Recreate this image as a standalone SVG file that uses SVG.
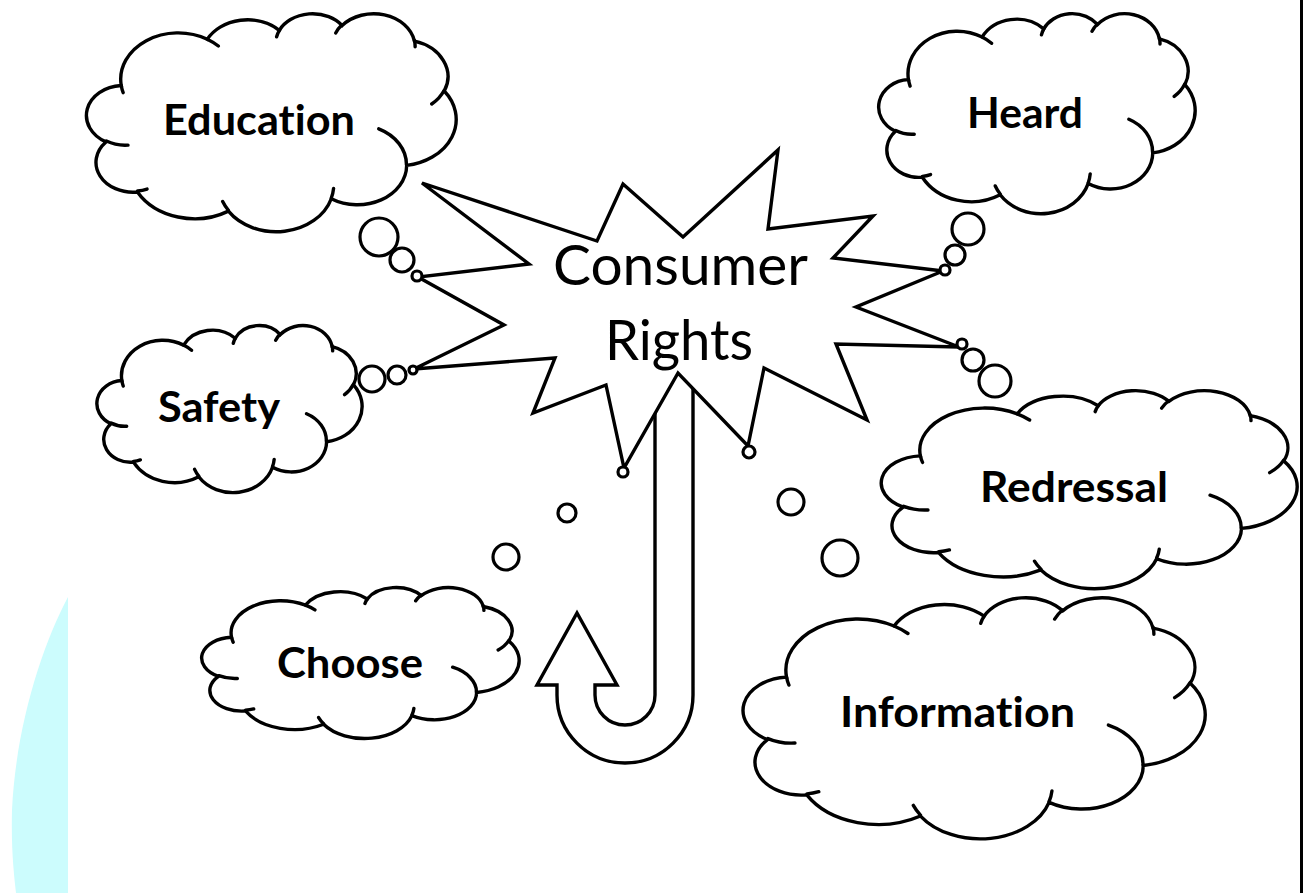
<svg xmlns="http://www.w3.org/2000/svg" xmlns:xlink="http://www.w3.org/1999/xlink" width="1308" height="893" viewBox="0 0 1308 893">
  <defs>
    <style>
      .outline { fill: #fff; stroke: #000; stroke-width: 3.4; vector-effect: non-scaling-stroke; }
      .tick { fill: none; stroke: #000; stroke-width: 3.4; vector-effect: non-scaling-stroke; stroke-linecap: round; }
      .burst { fill: #fff; stroke: #000; stroke-width: 3.4; stroke-linejoin: miter; }
      .bubble { fill: #fff; stroke: #000; stroke-width: 3.2; }
      .arrow { fill: #fff; stroke: #000; stroke-width: 3.4; stroke-linejoin: miter; }
      text { font-variant-ligatures: none; font-feature-settings: "liga" 0, "clig" 0; }
      .label { font-family: Lato, "Open Sans", "Liberation Sans", sans-serif; font-weight: 700; font-size: 42px; fill: #000; }
      .title { font-family: Lato, "Open Sans", "Liberation Sans", sans-serif; font-weight: 400; font-size: 57px; fill: #000; }
    </style>
    <!-- Thought-cloud outline on a 432 x 434 design grid, with its inner fold arcs -->
    <g id="cloud">
      <path class="outline" d="M39,143.7 A67.53,91.9 0 0 1 140.05,52.02 A53.33,72.67 0 0 1 224.56,34.31 A43.65,59.45 0 0 1 298.33,24.8 A48.57,65.95 0 0 1 383.18,55.75 A53.33,72.73 0 0 1 418.19,154.59 A67.75,92.2 0 0 1 374.05,302.01 A57.85,78.67 0 0 1 285.56,368.11 A67.52,92.15 0 0 1 164.82,392.65 A77.2,105.43 0 0 1 58.05,354.69 A43.6,59.18 0 0 1 21.13,255.48 A43.45,59.45 0 0 1 39,143.7 Z"/>
      <path class="tick" d="M46.93,261.77 A43.45,59.45 0 0 1 21.6,253.8 M69.28,348.99 A43.6,59.18 0 0 1 58.2,352.81 M164.78,390.9 A67.52,92.15 0 0 1 158.09,373.48 M288.27,347.51 A67.52,92.15 0 0 1 285.61,366.6 M341.29,229.54 A57.85,78.67 0 0 1 373.81,300.9 M417.98,153.54 A53.33,72.73 0 0 1 403.5,180.3 M383.24,54.26 A48.57,65.95 0 0 1 384,66.9 M290.78,39.52 A48.57,65.95 0 0 1 298.19,23.42 M221.41,47.2 A43.65,59.45 0 0 1 225,33.3 M140,51.92 A67.53,91.9 0 0 1 153,65.4 M41.27,157.89 A67.53,91.9 0 0 1 39,143.71"/>
    </g>
  </defs>

  <rect width="1308" height="893" fill="#fff"/>

  <!-- side decoration -->
  <path d="M68,597 C42,646 16,726 12,810 C11,850 14,875 16,893 L68,893 Z" fill="#ccfcfd"/>
  <line x1="1301.5" y1="0" x2="1301.5" y2="893" stroke="#000" stroke-width="3"/>

  <!-- U-turn arrow rising out of the burst -->
  <g id="uturn-arrow">
    <path class="arrow" d="M655,300 L655,695 A30,30 0 0 1 595,695 L595,685 L617,685 L577,613 L537,685 L557,685 L557,695 A68,68 0 0 0 693,695 L693,300 Z"/>
  </g>

  <!-- central burst -->
  <g id="consumer-rights">
    <polygon class="burst" points="422,183 597,241 623,184 683,237 778,150 768,229 873,216 833,258 943,271 856,307 959,347 836,344 867,420 764,368 748,446 678,373 624,468 606,385 533,413 555,358 414,369 504,325 418,277 529,264"/>
    <text class="title" x="553" y="285" textLength="255" lengthAdjust="spacingAndGlyphs">Consumer</text>
    <text class="title" x="605" y="360" textLength="148" lengthAdjust="spacingAndGlyphs">Rights</text>
  </g>

  <!-- thought-bubble trails linking the burst to each cloud -->
  <g id="connectors">
    <circle class="bubble" cx="379" cy="237" r="19"/>
    <circle class="bubble" cx="402" cy="260" r="12"/>
    <circle class="bubble" cx="417" cy="276" r="5"/>

    <circle class="bubble" cx="372" cy="379" r="13"/>
    <circle class="bubble" cx="397" cy="375" r="9"/>
    <circle class="bubble" cx="413" cy="370" r="4"/>

    <circle class="bubble" cx="968" cy="229" r="16"/>
    <circle class="bubble" cx="955" cy="255" r="10"/>
    <circle class="bubble" cx="945" cy="270" r="5"/>

    <circle class="bubble" cx="962" cy="344" r="5"/>
    <circle class="bubble" cx="973" cy="360" r="11"/>
    <circle class="bubble" cx="995" cy="381" r="16"/>

    <circle class="bubble" cx="623" cy="472" r="5"/>
    <circle class="bubble" cx="567" cy="513" r="9"/>
    <circle class="bubble" cx="506" cy="557" r="13"/>

    <circle class="bubble" cx="749" cy="452" r="6"/>
    <circle class="bubble" cx="791" cy="502" r="13"/>
    <circle class="bubble" cx="840" cy="558" r="18"/>
  </g>

  <g id="education">
    <use xlink:href="#cloud" transform="translate(88,13) scale(0.8519,0.5046)"/>
    <text class="label" x="163" y="135" textLength="192" lengthAdjust="spacingAndGlyphs">Education</text>
  </g>

  <g id="heard">
    <use xlink:href="#cloud" transform="translate(880,13) scale(0.7292,0.463)"/>
    <text class="label" x="967" y="128" textLength="116" lengthAdjust="spacingAndGlyphs">Heard</text>
  </g>

  <g id="safety">
    <use xlink:href="#cloud" transform="translate(98,325) scale(0.6111,0.3866)"/>
    <text class="label" x="158" y="422" textLength="122" lengthAdjust="spacingAndGlyphs">Safety</text>
  </g>

  <g id="redressal">
    <use xlink:href="#cloud" transform="translate(883,390) scale(0.9583,0.4583)"/>
    <text class="label" x="980" y="502" textLength="188" lengthAdjust="spacingAndGlyphs">Redressal</text>
  </g>

  <g id="choose">
    <use xlink:href="#cloud" transform="translate(203,587) scale(0.7315,0.3495)"/>
    <text class="label" x="277" y="678" textLength="146" lengthAdjust="spacingAndGlyphs">Choose</text>
  </g>

  <g id="information">
    <use xlink:href="#cloud" transform="translate(745,597) scale(1.0648,0.5579)"/>
    <text class="label" x="840" y="727" textLength="235" lengthAdjust="spacingAndGlyphs">Information</text>
  </g>
</svg>
